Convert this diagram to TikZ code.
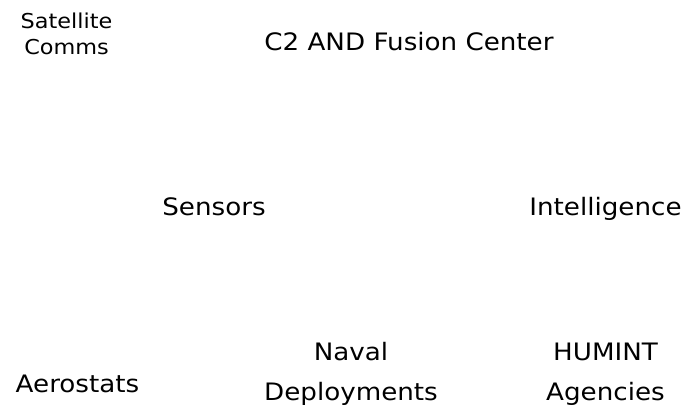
\documentclass[tikz,border=0pt]{standalone}
\usepackage{fontspec}
\setmainfont{DejaVu Sans}[FakeStretch=1.09]
\begin{document}
\begin{tikzpicture}[x=1pt,y=-1pt,
  lbl/.style={inner sep=0pt, anchor=base, align=center, text=black,
    font=\fontsize{24}{39.5}\selectfont},
  smalllbl/.style={lbl, font=\fontsize{20.5}{26}\selectfont}]
\fill[white] (0,0) rectangle (684,410);
\useasboundingbox (0,0) rectangle (684,410);
\node[smalllbl] (sat) at (66.5,54.5) {Satellite\\Comms};
\node[lbl] (c2) at (409,50.5) {C2 AND Fusion Center};
\node[lbl] (sens) at (214,215) {Sensors};
\node[lbl] (intel) at (605.5,215) {Intelligence};
\node[lbl] (aero) at (77.5,392) {Aerostats};
\node[lbl] (naval) at (351,400) {Naval\\Deployments};
\node[lbl] (humint) at (605.5,400) {HUMINT\\Agencies};
\end{tikzpicture}
\end{document}
